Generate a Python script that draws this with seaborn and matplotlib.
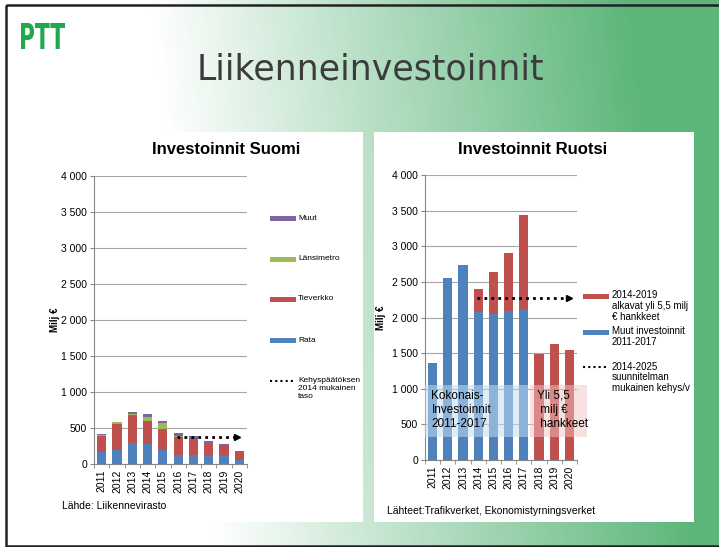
import numpy as np
import matplotlib
matplotlib.use("Agg")
import matplotlib.pyplot as plt
import seaborn as sns
from matplotlib.patches import Rectangle, PathPatch
from matplotlib.textpath import TextPath
from matplotlib.font_manager import FontProperties
from matplotlib.transforms import Affine2D
from matplotlib.ticker import FuncFormatter, MultipleLocator, FixedLocator

# --- data (milj €) ---
years = [str(y) for y in range(2011, 2021)]

# Investoinnit Suomi
rata = [165, 200, 290, 275, 195, 120, 130, 125, 120, 55]
tieverkko = [230, 360, 385, 315, 285, 255, 215, 165, 150, 120]
lansimetro = [12, 22, 22, 55, 90, 18, 0, 0, 0, 0]
muut = [10, 0, 25, 55, 32, 42, 40, 35, 8, 0]
kehys_suomi = 375

# Investoinnit Ruotsi
muut_investoinnit = [1360, 2560, 2730, 2080, 2055, 2090, 2115, 0, 0, 0]
yli_55 = [0, 0, 0, 320, 580, 820, 1330, 1490, 1635, 1545]
kehys_ruotsi = 2280

BLUE, RED, GREEN, PURPLE = "#4F81BD", "#C0504D", "#9BBB59", "#8064A2"
FONT = "Liberation Sans"
plt.rcParams["font.family"] = [FONT, "DejaVu Sans"]

W, H = 719, 547
fig = plt.figure(figsize=(W / 100, H / 100), dpi=100)

# slide background
ax_bg = fig.add_axes([0, 0, 1, 1], zorder=-5)
yy, xx = np.mgrid[0:H, 0:W]
t = np.clip((xx - 150 - 0.12 * yy) / 480, 0, 1)[..., None]
green = np.array([92, 182, 122]) / 255
ax_bg.imshow(np.ones(3) * (1 - t) + green * t, extent=[0, W, H, 0], aspect="auto")
ax_bg.add_patch(Rectangle((6, 132), 357, 390, facecolor="white", edgecolor="none"))
ax_bg.add_patch(Rectangle((374, 132), 320, 390, facecolor="white", edgecolor="none"))
ax_bg.set_xlim(0, W)
ax_bg.set_ylim(H, 0)
ax_bg.axis("off")

fmt = FuncFormatter(lambda v, p: f"{v:,.0f}".replace(",", " "))


def style(ax, pad):
    ax.set_xlim(-0.5, 9.5)
    ax.set_ylim(0, 4000)
    ax.yaxis.set_major_locator(MultipleLocator(500))
    ax.yaxis.set_major_formatter(fmt)
    ax.grid(axis="y", color="#a6a6a6", lw=0.8)
    ax.set_axisbelow(True)
    for s in ["top", "right"]:
        ax.spines[s].set_visible(False)
    for s in ["left", "bottom"]:
        ax.spines[s].set_color("#868686")
    ax.xaxis.set_minor_locator(FixedLocator(np.arange(-0.5, 10, 1)))
    ax.tick_params(axis="x", which="major", length=0, labelrotation=90, labelsize=7.5, pad=4)
    ax.tick_params(axis="x", which="minor", length=3, color="#868686")
    ax.tick_params(axis="y", length=3, color="#868686", labelsize=7.5, pad=2)
    ax.set_xlabel("")
    ax.set_ylabel("Milj €", fontsize=7, fontweight="bold", labelpad=pad)
    ax.patch.set_alpha(0)


bar_kw = dict(width=0.6, saturation=1, errorbar=None, linewidth=0)

# left chart
ax1 = fig.add_axes([94 / W, 1 - 464 / H, 153 / W, 288.5 / H])
bottom = np.zeros(len(years))
for vals, col in [(rata, BLUE), (tieverkko, RED), (lansimetro, GREEN), (muut, PURPLE)]:
    sns.barplot(x=years, y=vals, bottom=bottom, color=col, ax=ax1, **bar_kw)
    bottom = bottom + np.array(vals)
ax1.plot([4.9, 8.85], [kehys_suomi, kehys_suomi], color="black", lw=2, ls=(0, (1, 1.5)))
ax1.plot([8.85], [kehys_suomi], marker=">", color="black", ms=5)
style(ax1, 1)

# right chart
ax2 = fig.add_axes([425 / W, 1 - 460 / H, 152 / W, 285 / H])
sns.barplot(x=years, y=muut_investoinnit, color=BLUE, ax=ax2, **bar_kw)
sns.barplot(x=years, y=yli_55, bottom=np.array(muut_investoinnit), color=RED, ax=ax2, **bar_kw)
ax2.plot([2.92, 8.95], [kehys_ruotsi, kehys_ruotsi], color="black", lw=2, ls=(0, (1, 1.5)))
ax2.plot([8.95], [kehys_ruotsi], marker=">", color="black", ms=5)
ax2.add_patch(Rectangle((-0.5, 327), 6.8, 725, facecolor="#c3ddef", alpha=0.55,
                        edgecolor="none", zorder=5))
ax2.add_patch(Rectangle((6.43, 327), 3.7, 725, facecolor="#f1c3c3", alpha=0.5,
                        edgecolor="none", zorder=5, clip_on=False))
ax2.text(-0.08, 700, "Kokonais-\nInvestoinnit\n2011-2017", fontsize=8.5, ha="left",
         va="center", linespacing=1.25, zorder=6)
ax2.text(6.85, 700, "Yli 5,5\n milj €\n hankkeet", fontsize=8.5, ha="left",
         va="center", linespacing=1.25, zorder=6)
style(ax2, 4)

# decorations: titles, legends, sources, logo, border
ax_d = fig.add_axes([0, 0, 1, 1], zorder=10)
ax_d.set_xlim(0, W)
ax_d.set_ylim(H, 0)
ax_d.axis("off")

ax_d.text(370, 70, "Liikenneinvestoinnit", fontsize=25, color="#3c3c3c",
          family="DejaVu Sans", ha="center", va="center")
ax_d.text(226, 150, "Investoinnit Suomi", fontsize=12, fontweight="bold", ha="center", va="center")
ax_d.text(533, 150, "Investoinnit Ruotsi", fontsize=12, fontweight="bold", ha="center", va="center")
ax_d.text(62, 506, "Lähde: Liikennevirasto", fontsize=7.5, va="center")
ax_d.text(387, 511, "Lähteet:Trafikverket, Ekonomistyrningsverket", fontsize=7.5, va="center")

# left legend
for y, col, lab in [(218, PURPLE, "Muut"), (259, GREEN, "Länsimetro"),
                    (299, RED, "Tieverkko"), (340, BLUE, "Rata")]:
    ax_d.add_patch(Rectangle((270, y - 2.5), 26, 5, facecolor=col, edgecolor="none"))
    ax_d.text(298, y, lab, fontsize=6, va="center")
ax_d.plot([270, 296], [381, 381], color="black", lw=1.5, ls=(0, (1, 1.5)))
ax_d.text(298, 376.5, "Kehyspäätöksen\n2014 mukainen\ntaso", fontsize=6, va="top")

# right legend
ax_d.add_patch(Rectangle((583, 293.5), 26, 5, facecolor=RED, edgecolor="none"))
ax_d.text(612, 290.5, "2014-2019\nalkavat yli 5,5 milj\n€ hankkeet", fontsize=7, va="top",
          linespacing=1.1)
ax_d.add_patch(Rectangle((583, 329.5), 26, 5, facecolor=BLUE, edgecolor="none"))
ax_d.text(612, 326.5, "Muut investoinnit\n2011-2017", fontsize=7, va="top", linespacing=1.1)
ax_d.plot([583, 609], [367, 367], color="black", lw=1.5, ls=(0, (1, 1.5)))
ax_d.text(612, 361.5, "2014-2025\nsuunnitelman\nmukainen kehys/v", fontsize=7, va="top",
          linespacing=1.1)

# logo
tp = TextPath((0, 0), "PTT", size=1, prop=FontProperties(family="DejaVu Sans", weight="bold"))
ext = tp.get_extents()
tr = Affine2D().translate(-ext.x0, -ext.y0).scale(44 / ext.width, -26 / ext.height).translate(21, 49)
ax_d.add_patch(PathPatch(tr.transform_path(tp), facecolor="#22a84c", edgecolor="none"))

# slide border
ax_d.add_patch(Rectangle((5.5, 5), W, 541, facecolor="none", edgecolor="#222222", lw=1.8))

fig.savefig("out.png", dpi=100)
